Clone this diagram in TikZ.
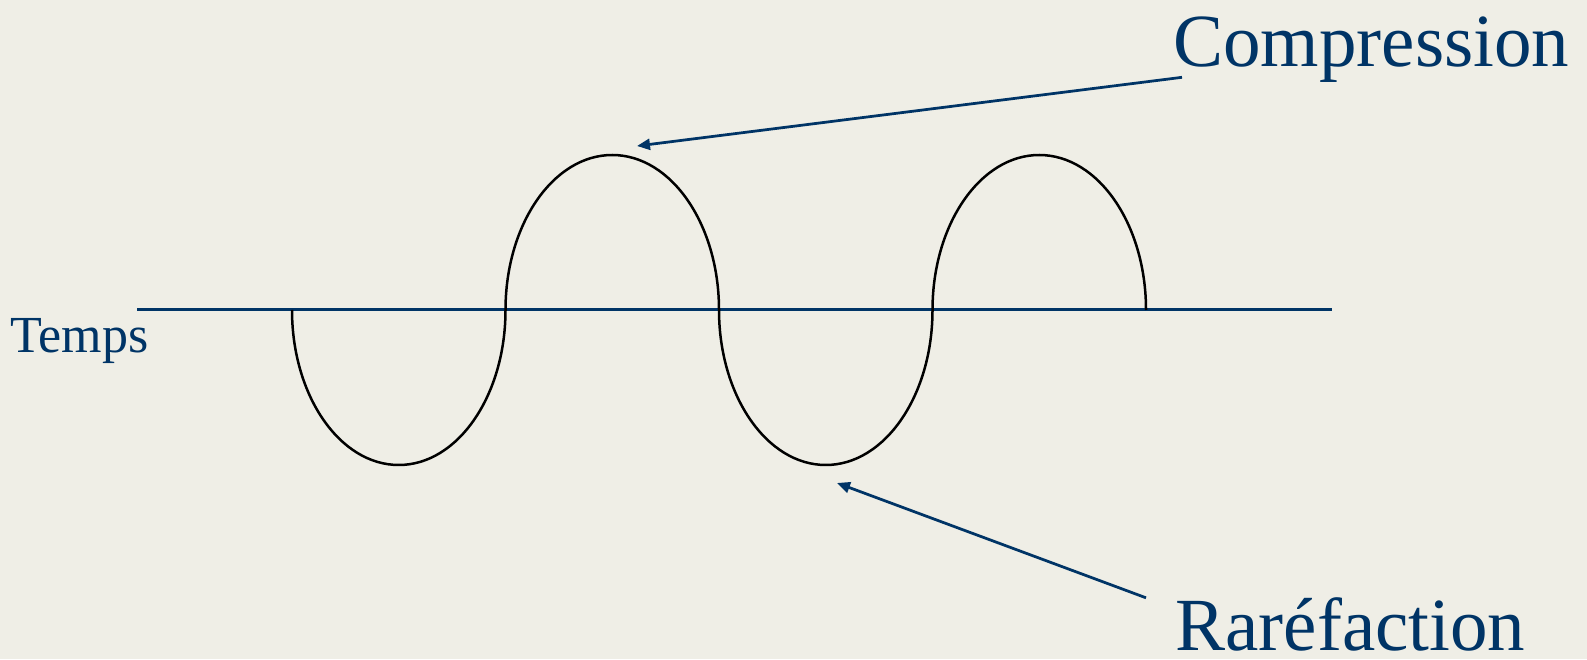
\documentclass[tikz,border=0pt]{standalone}
\usepackage{fontspec}
\setmainfont{Liberation Serif}
\usepackage{xcolor}
\usetikzlibrary{positioning,arrows.meta,calc}
\definecolor{uInk}{HTML}{003466}
\definecolor{uPaper}{HTML}{EFEEE6}
\tikzset{
  axis/.style={draw=uInk, line width=0.6mm},
  wave/.style={draw=black, line width=0.5mm},
  pointer/.style={draw=uInk, line width=0.55mm,
                  -{Triangle[length=2.6mm, width=2.2mm]}},
  lbl/.style={text=uInk, inner sep=0pt, anchor=base west,
              font=\fontsize{29.6}{34}\selectfont},
  biglbl/.style={lbl, font=\fontsize{42.7}{48}\selectfont},
}
\begin{document}
\begin{tikzpicture}[x=0.2mm, y=0.2mm]

%% ── page ─────────────────────────────────────────────────────────────────
\fill[uPaper] (0,0) rectangle (1587,659);
\useasboundingbox (0,0) rectangle (1587,659);

%% ── time axis ────────────────────────────────────────────────────────────
\coordinate (t0) at (137,349);
\coordinate (t1) at (1332,349);
\draw[axis] (t0) -- (t1);
\node[lbl] (temps) at (10,306) {Temps};

%% ── the wave: quarter ellipses, down first ──────────────────────────────
\coordinate (w0) at (292,349);
\draw[wave] (w0) arc[start angle=180, end angle=360, x radius=106.75, y radius=155]
  coordinate (w1);
\draw[wave] (w1) arc[start angle=180, end angle=0, x radius=106.75, y radius=155]
  coordinate (w2);
\draw[wave] (w2) arc[start angle=180, end angle=360, x radius=106.75, y radius=155]
  coordinate (w3);
\draw[wave] (w3) arc[start angle=180, end angle=0, x radius=106.75, y radius=155]
  coordinate (w4);
\coordinate (crest) at (637,513);
\coordinate (trough) at (837,176);

%% ── labels ───────────────────────────────────────────────────────────────
\node[biglbl] (comp) at (1173,592) {Compression};
\node[biglbl] (rare) at (1175,9) {Raréfaction};
\draw[pointer] ([shift={(9,6)}]comp.south west) -- (crest);
\draw[pointer] ([shift={(-29,-1)}]rare.north west) -- (trough);

\end{tikzpicture}
\end{document}
